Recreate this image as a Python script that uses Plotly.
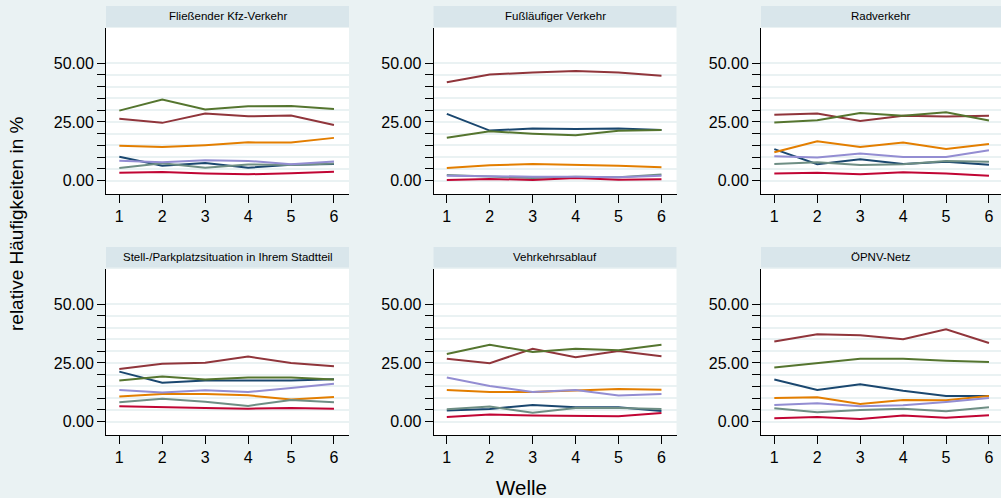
import plotly.graph_objects as go

# ---------------- data ----------------
wellen = [1, 2, 3, 4, 5, 6]
panels = [
    "Fließender Kfz-Verkehr",
    "Fußläufiger Verkehr",
    "Radverkehr",
    "Stell-/Parkplatzsituation in Ihrem Stadtteil",
    "Vehrkehrsablauf",
    "ÖPNV-Netz",
]
series_names = ["Serie 1", "Serie 2", "Serie 3", "Serie 4", "Serie 5", "Serie 6", "Serie 7"]
series_colors = ["#1a476f", "#90353b", "#55752f", "#e37e00", "#6e8e84", "#c10534", "#938dd2"]

# values per panel, order: navy, maroon, green, orange, teal, cranberry, lavender
kfz = [
    [10.2, 6.3, 7.5, 5.5, 6.8, 7.1],
    [26.3, 24.6, 28.6, 27.4, 27.7, 23.7],
    [29.8, 34.5, 30.3, 31.7, 31.8, 30.5],
    [14.9, 14.3, 15.1, 16.3, 16.2, 18.2],
    [5.4, 7.4, 5.5, 6.9, 6.6, 7.3],
    [3.4, 3.7, 3.0, 2.7, 3.1, 3.8],
    [8.5, 7.8, 8.7, 8.4, 7.0, 8.1],
]
fuss = [
    [28.4, 21.3, 22.2, 22.0, 22.2, 21.6],
    [41.9, 45.2, 46.0, 46.7, 46.0, 44.7],
    [18.3, 21.0, 20.0, 19.3, 21.2, 21.6],
    [5.4, 6.5, 7.1, 6.8, 6.3, 5.7],
    [2.4, 1.8, 1.1, 1.6, 1.4, 2.6],
    [0.3, 0.7, 0.3, 1.1, 0.4, 0.6],
    [2.1, 1.8, 1.7, 1.6, 1.4, 2.1],
]
rad = [
    [13.4, 7.0, 9.1, 7.1, 8.0, 6.8],
    [28.0, 28.6, 25.4, 27.6, 27.3, 27.6],
    [24.7, 25.7, 28.8, 27.6, 29.1, 25.6],
    [12.1, 16.8, 14.3, 16.2, 13.5, 15.6],
    [7.1, 7.8, 6.7, 7.0, 8.4, 8.0],
    [3.0, 3.3, 2.7, 3.6, 3.0, 2.1],
    [10.4, 9.8, 11.6, 10.1, 10.1, 12.9],
]
parken = [
    [21.3, 16.6, 17.5, 17.5, 17.5, 18.0],
    [22.4, 24.6, 25.1, 27.7, 25.0, 23.6],
    [17.5, 19.2, 17.9, 18.8, 18.8, 17.9],
    [10.7, 11.8, 11.8, 11.2, 9.4, 10.5],
    [8.2, 9.7, 8.5, 6.7, 9.2, 8.2],
    [6.5, 6.0, 5.8, 5.5, 5.8, 5.5],
    [13.5, 12.4, 13.4, 12.6, 14.3, 16.1],
]
ablauf = [
    [4.7, 5.4, 7.1, 6.1, 6.1, 4.5],
    [26.8, 24.9, 31.0, 27.4, 30.1, 27.8],
    [28.8, 32.7, 29.7, 31.0, 30.4, 32.7],
    [13.5, 12.6, 12.6, 13.4, 13.9, 13.6],
    [5.3, 6.4, 3.8, 5.8, 5.8, 5.4],
    [2.0, 3.0, 2.6, 2.6, 2.3, 3.7],
    [18.8, 15.2, 12.6, 13.5, 11.1, 11.8],
]
oepnv = [
    [17.9, 13.5, 15.9, 13.1, 10.9, 10.9],
    [34.1, 37.2, 36.8, 35.1, 39.3, 33.5],
    [23.0, 24.9, 26.8, 26.8, 25.9, 25.4],
    [10.1, 10.4, 7.5, 9.2, 9.1, 10.9],
    [5.7, 4.0, 5.0, 5.5, 4.4, 6.1],
    [1.4, 2.0, 1.1, 2.6, 1.7, 2.7],
    [7.1, 7.8, 6.5, 7.0, 8.4, 10.1],
]
panel_data = [kfz, fuss, rad, parken, ablauf, oepnv]

y_tickvals = [0, 5, 10, 15, 20, 25, 30, 35, 40, 45, 50]
y_ticktext = ["0.00", "", "", "", "", "25.00", "", "", "", "", "50.00"]
x_title = "Welle"
y_title = "relative Häufigkeiten in %"

# ---------------- layout geometry ----------------
W, H = 1001, 498
BG = "#eaf2f3"
STRIP = "#d9e6eb"
FONT = "Liberation Sans, Arial, sans-serif"

col_px = [(106, 349), (433.5, 676.5), (761, 1001)]
col_xrange = [[0.69, 6.35], [0.69, 6.35], [0.69, 6.28]]
row_px = [(28, 194), (269, 435)]
strip_px = [(6, 27), (247, 267.5)]

def px_x(v):
    return v / W

def px_y(v):
    return 1 - v / H

fig = go.Figure()
layout = dict(
    width=W, height=H,
    margin=dict(l=0, r=0, t=0, b=0),
    paper_bgcolor=BG, plot_bgcolor="white",
    showlegend=False,
    font=dict(family=FONT, color="black"),
)
shapes = []
annotations = []

for i, (title, data) in enumerate(zip(panels, panel_data)):
    r, c = divmod(i, 3)
    xa = "x" if i == 0 else f"x{i+1}"
    ya = "y" if i == 0 else f"y{i+1}"
    for name, color, vals in zip(series_names, series_colors, data):
        fig.add_trace(go.Scatter(
            x=wellen, y=vals, mode="lines", name=name,
            line=dict(color=color, width=2),
            xaxis=xa, yaxis=ya, hoverinfo="x+y+name",
        ))
    x0, x1 = col_px[c]
    ytop, ybot = row_px[r]
    layout["xaxis" if i == 0 else f"xaxis{i+1}"] = dict(
        domain=[px_x(x0), px_x(x1)], anchor=ya,
        range=col_xrange[c], tickvals=wellen, ticktext=[str(w) for w in wellen],
        ticks="outside", ticklen=8, tickcolor="black", tickwidth=1,
        showline=True, linecolor="black", linewidth=1,
        showgrid=False, zeroline=False,
        tickfont=dict(size=16, family=FONT, color="black"),
    )
    layout["yaxis" if i == 0 else f"yaxis{i+1}"] = dict(
        domain=[px_y(ybot), px_y(ytop)], anchor=xa,
        range=[-5.7, 65], tickvals=y_tickvals, ticktext=y_ticktext,
        ticks="outside", ticklen=8, tickcolor="black", tickwidth=1,
        showline=True, linecolor="black", linewidth=1,
        showgrid=True, gridcolor=BG, gridwidth=2, zeroline=False,
        tickfont=dict(size=16, family=FONT, color="black"),
    )
    s0, s1 = strip_px[r]
    shapes.append(dict(
        type="rect", xref="paper", yref="paper",
        x0=px_x(x0), x1=px_x(x1), y0=px_y(s1), y1=px_y(s0),
        fillcolor=STRIP, line=dict(width=0), layer="below",
    ))
    annotations.append(dict(
        text=title, xref="paper", yref="paper",
        x=px_x((x0 + x1) / 2), y=px_y((s0 + s1) / 2),
        xanchor="center", yanchor="middle", showarrow=False,
        font=dict(size=11.5, family=FONT, color="black"),
    ))

annotations.append(dict(
    text=x_title, xref="paper", yref="paper",
    x=px_x(521), y=px_y(487), xanchor="center", yanchor="middle",
    showarrow=False, font=dict(size=20.5, family=FONT, color="black"),
))
annotations.append(dict(
    text=y_title, xref="paper", yref="paper",
    x=px_x(16), y=px_y(224), xanchor="center", yanchor="middle",
    textangle=-90, showarrow=False,
    font=dict(size=19, family=FONT, color="black"),
))

layout["shapes"] = shapes
layout["annotations"] = annotations
fig.update_layout(**layout)
fig.write_html(
    "out.html",
    config={"displayModeBar": False},
    post_script="document.body.style.margin='0';document.body.style.padding='0';"
                "document.body.style.overflow='hidden';document.body.style.background='#eaf2f3';",
)
